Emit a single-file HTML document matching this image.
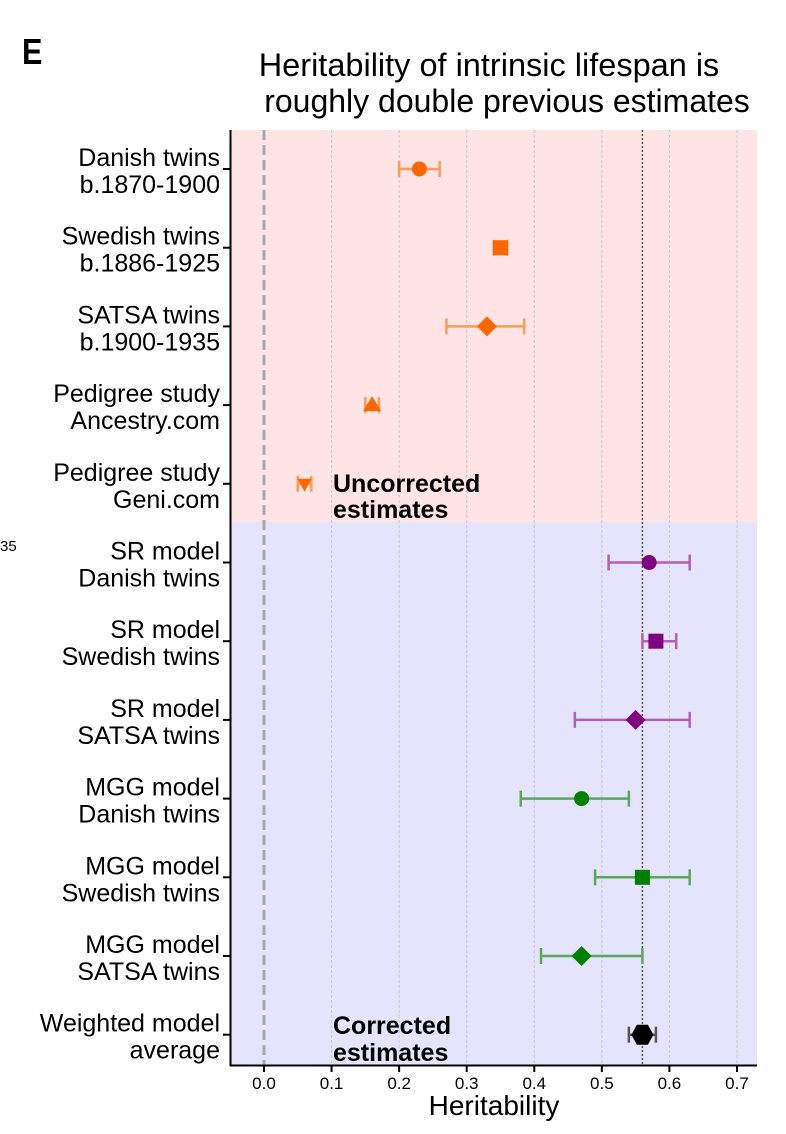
<!DOCTYPE html>
<html><head><meta charset="utf-8"><style>
body{margin:0;background:#fff;}
svg{display:block;font-family:"Liberation Sans",sans-serif;}
</style></head><body>
<svg id="chart" width="786" height="1134" viewBox="0 0 786 1134">
<text x="22" y="64" font-size="36" font-weight="bold" transform="translate(22,64) scale(0.85,1) translate(-22,-64)">E</text>
<text x="489" y="76" font-size="32.5" text-anchor="middle">Heritability of intrinsic lifespan is</text>
<text x="507" y="112" font-size="32" text-anchor="middle">roughly double previous estimates</text>
<text x="0" y="551" font-size="15">35</text>
<rect x="231" y="130" width="526" height="392" fill="#fee4e4"/>
<rect x="231" y="522" width="526" height="543" fill="#e4e4fd"/>
<g id="grid"></g>
<g id="marks"></g>
<line x1="230.5" y1="130" x2="230.5" y2="1066" stroke="#000" stroke-width="2"/>
<line x1="230" y1="1065.5" x2="757" y2="1065.5" stroke="#000" stroke-width="2"/>
<g id="axes"></g>
<text x="333" y="492" font-size="25" font-weight="bold">Uncorrected</text>
<text x="333" y="518" font-size="25" font-weight="bold">estimates</text>
<text x="333" y="1034" font-size="25" font-weight="bold">Corrected</text>
<text x="333" y="1061" font-size="25" font-weight="bold">estimates</text>
<text x="494" y="1115" font-size="28" text-anchor="middle">Heritability</text>
</svg>
<script>
const labels1 = ["Danish twins","Swedish twins","SATSA twins","Pedigree study","Pedigree study","SR model","SR model","SR model","MGG model","MGG model","MGG model","Weighted model"];
const labels2 = ["b.1870-1900","b.1886-1925","b.1900-1935","Ancestry.com","Geni.com","Danish twins","Swedish twins","SATSA twins","Danish twins","Swedish twins","SATSA twins","average"];
const estimates = [0.23,0.35,0.33,0.16,0.06,0.57,0.58,0.55,0.47,0.56,0.47,0.56];
const lowers = [0.20,0.34,0.27,0.15,0.05,0.51,0.56,0.46,0.38,0.49,0.41,0.54];
const uppers = [0.26,0.36,0.385,0.17,0.07,0.63,0.61,0.63,0.54,0.63,0.56,0.58];
const shapes = ["circle","square","diamond","triangle","tridown","circle","square","diamond","circle","square","diamond","hexagon"];
const groups = ["u","u","u","u","u","sr","sr","sr","mgg","mgg","mgg","w"];
const xTicks = [0.0,0.1,0.2,0.3,0.4,0.5,0.6,0.7];
const refValue = 0.56;

const NS="http://www.w3.org/2000/svg";
const colors={u:"#ff6600",sr:"#800080",mgg:"#008000",w:"#000000"};
const barColors={u:"#ff9955",sr:"#b45fb4",mgg:"#5aa85a",w:"#555555"};
const xs=v=>264+v*675.7;
const ys=i=>169+i*78.7;
function mk(tag,attrs,parent){const e=document.createElementNS(NS,tag);for(const k in attrs)e.setAttribute(k,attrs[k]);parent.appendChild(e);return e;}
const grid=document.getElementById('grid'),marks=document.getElementById('marks'),axes=document.getElementById('axes');
xTicks.forEach((t,i)=>{
  if(t>0){const g=mk('line',{x1:xs(t),x2:xs(t),y1:130,y2:1065,stroke:'#c8c8c8','stroke-width':1,'stroke-dasharray':'3,2'},grid);
  
  }
  const tk=mk('line',{x1:xs(t),x2:xs(t),y1:1065,y2:1072,stroke:'#000','stroke-width':2},axes);
  
  
  const tl=mk('text',{x:xs(t),y:1089,'font-size':17,'text-anchor':'middle'},axes);
  tl.textContent=t.toFixed(1);
  
  
});
const zl=mk('line',{x1:xs(0),x2:xs(0),y1:130,y2:1065,stroke:'#a8a8a8','stroke-width':3,'stroke-dasharray':'10,5'},grid);


const rl=mk('line',{x1:xs(refValue),x2:xs(refValue),y1:130,y2:1065,stroke:'#555','stroke-width':1.5,'stroke-dasharray':'2,2'},grid);


estimates.forEach((v,i)=>{
  const y=ys(i),g=groups[i],c=colors[g],bc=barColors[g];
  const lab=mk('text',{x:220,y:y-3,'font-size':25,'text-anchor':'end'},axes);
  lab.textContent=labels1[i];
  
  
  const lab2=mk('text',{x:220,y:y+24,'font-size':25,'text-anchor':'end'},axes);
  lab2.textContent=labels2[i];
  
  
  const tk=mk('line',{x1:223,x2:230,y1:y,y2:y,stroke:'#000','stroke-width':2},axes);
  
  
  const eb=mk('g',{stroke:bc,'stroke-width':2.5},marks);
  
  
  mk('line',{x1:xs(lowers[i]),x2:xs(uppers[i]),y1:y,y2:y},eb);
  mk('line',{x1:xs(lowers[i]),x2:xs(lowers[i]),y1:y-8,y2:y+8},eb);
  mk('line',{x1:xs(uppers[i]),x2:xs(uppers[i]),y1:y-8,y2:y+8},eb);
  const x=xs(v);let m;const s=shapes[i];
  if(s==='circle')m=mk('circle',{cx:x,cy:y,r:7.5,fill:c},marks);
  else if(s==='square')m=mk('rect',{x:x-7.5,y:y-7.5,width:15,height:15,fill:c},marks);
  else if(s==='diamond')m=mk('polygon',{points:`${x},${y-10} ${x+10},${y} ${x},${y+10} ${x-10},${y}`,fill:c},marks);
  else if(s==='triangle')m=mk('polygon',{points:`${x},${y-9} ${x+9},${y+6} ${x-9},${y+6}`,fill:c},marks);
  else if(s==='tridown')m=mk('polygon',{points:`${x},${y+8} ${x+7},${y-5} ${x-7},${y-5}`,fill:c},marks);
  else m=mk('polygon',{points:`${x-11},${y} ${x-5.5},${y-10} ${x+5.5},${y-10} ${x+11},${y} ${x+5.5},${y+10} ${x-5.5},${y+10}`,fill:c},marks);
  
  
});
</script>
</body></html>
